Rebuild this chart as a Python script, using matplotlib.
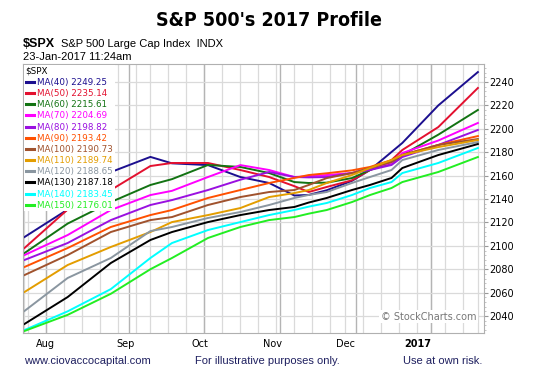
import numpy as np
import pandas as pd
import matplotlib
matplotlib.use("Agg")
import matplotlib.pyplot as plt
from matplotlib.ticker import MultipleLocator

# trading calendar behind the chart (exchange holidays removed)
holidays = ["2016-09-05", "2016-11-24", "2016-12-26", "2017-01-02", "2017-01-16"]
days = pd.bdate_range("2016-07-22", "2017-01-23")
days = days[~days.isin(pd.to_datetime(holidays))]

# values at these sessions
dates = ["2016-07-22", "2016-08-09", "2016-08-25", "2016-09-12", "2016-09-20",
         "2016-10-04", "2016-10-17", "2016-10-27", "2016-11-07", "2016-11-11",
         "2016-11-18", "2016-11-30", "2016-12-07", "2016-12-15", "2016-12-20",
         "2017-01-05", "2017-01-23"]

ma40 = [2107.5, 2131, 2163, 2176, 2170.5, 2169, 2158.8, 2153.7, 2143, 2143.5,
        2147.5, 2155.5, 2164.8, 2180.2, 2187.9, 2220, 2248.5]
ma50 = [2098.1, 2131, 2147.7, 2168.2, 2170.8, 2170.8, 2164.8, 2158.8, 2151, 2146,
        2150.3, 2156, 2164.8, 2173.3, 2181.9, 2201.5, 2234.9]
ma60 = [2093.8, 2119, 2137.4, 2152, 2157, 2169.1, 2167.4, 2162.2, 2154.5, 2153.7,
        2154, 2157.9, 2164.8, 2170.7, 2177.6, 2195, 2216.1]
ma70 = [2092.1, 2109.2, 2130.6, 2143.4, 2147, 2158.8, 2169, 2164.8, 2158.8, 2159.5,
        2160.5, 2162.2, 2166.5, 2170.8, 2179.3, 2190, 2205]
ma80 = [2087.9, 2102.4, 2122, 2134.9, 2139.1, 2147.7, 2156.5, 2163.1, 2158.8, 2158.5,
        2158.8, 2162.2, 2164.8, 2169.1, 2175.9, 2186.2, 2199]
ma90 = [2081.9, 2098.1, 2116.1, 2126.3, 2130.6, 2140.9, 2147.7, 2153.7, 2158, 2160.5,
        2162, 2164.5, 2167.4, 2173.3, 2177.6, 2186.2, 2193.8]
ma100 = [2075, 2092.1, 2111.8, 2122, 2124.6, 2134.9, 2141.7, 2146, 2147.7, 2152,
         2157.9, 2162.2, 2166.5, 2171.6, 2177.6, 2186.2, 2191.3]
ma110 = [2060.5, 2083.6, 2099, 2111.8, 2120.3, 2126.3, 2132.3, 2141.7, 2145.1, 2147.7,
         2153.7, 2160.5, 2166.5, 2173.3, 2177.6, 2184.4, 2190.4]
ma120 = [2044.3, 2072.5, 2089.6, 2112.6, 2116.1, 2123.8, 2128.9, 2134.9, 2140.9, 2143.5,
         2146, 2153.7, 2158.8, 2164.8, 2173.3, 2181.9, 2188.7]
ma130 = [2033.2, 2056.2, 2085.3, 2105, 2111.8, 2120.3, 2126.3, 2130.6, 2133.2, 2137,
         2140.9, 2147.7, 2152, 2158, 2166.5, 2177.6, 2187]
ma140 = [2028, 2044, 2063, 2089.6, 2102.4, 2113.5, 2120.3, 2126.3, 2130.6, 2133.5,
         2136.6, 2143.4, 2149.4, 2154.5, 2162.2, 2170.8, 2183.6]
ma150 = [2027.2, 2041, 2059, 2080, 2089.6, 2106.7, 2116.1, 2122, 2124.6, 2127.5,
         2130.6, 2137.4, 2143.4, 2149.4, 2154.5, 2163.1, 2175.9]

labels = ["MA(40) 2249.25", "MA(50) 2235.14", "MA(60) 2215.61", "MA(70) 2204.69",
          "MA(80) 2198.82", "MA(90) 2193.42", "MA(100) 2190.73", "MA(110) 2189.74",
          "MA(120) 2188.65", "MA(130) 2187.18", "MA(140) 2183.45", "MA(150) 2176.01"]
series = [ma40, ma50, ma60, ma70, ma80, ma90, ma100, ma110, ma120, ma130, ma140, ma150]
colors = ["#1c0f8f", "#e3102f", "#127312", "#ff00ff", "#9a10e0", "#ff5000",
          "#a0522d", "#e39d00", "#8a96a0", "#000000", "#00ffff", "#22ee22"]

month_names = ["Aug", "Sep", "Oct", "Nov", "Dec", "2017"]

x = days.get_indexer(pd.to_datetime(dates))

fig = plt.figure(figsize=(5.37, 3.81), dpi=100)
ax = fig.add_axes([23 / 537, 1 - 333 / 381, 461 / 537, 269 / 381])

for vals, col, lab in zip(series, colors, labels):
    ax.plot(x, vals, color=col, lw=1.4, label=lab, solid_joinstyle="round")

ax.set_xlim(-0.4, 127.7)
ax.set_ylim(2025.5, 2255.4)

# grid: weekly light lines, monthly darker lines
s = pd.Series(np.arange(len(days)), index=days)
week_starts = s.groupby(days.to_period("W")).first().values
month_starts = s.groupby(days.to_period("M")).first().values[1:]
for w in week_starts:
    ax.axvline(w, color="#dadada", lw=0.9, zorder=0)
for m in month_starts:
    ax.axvline(m, color="#b4b4b4", lw=1.0, zorder=0)
ax.yaxis.grid(True, color="#dadada", lw=0.9)
ax.set_axisbelow(True)

# month labels
label_pos = [m - o for m, o in zip(month_starts, [0.3, 0.8, 1.2, 2.0, 2.7, 3.6])]
ax.set_xticks(label_pos)
ax.set_xticklabels(month_names, fontsize=7, family="DejaVu Sans")
ax.get_xticklabels()[-1].set_fontweight("bold")
ax.tick_params(axis="x", length=0, pad=4)

ax.yaxis.tick_right()
ax.set_yticks(np.arange(2040, 2241, 20))
ax.yaxis.set_minor_locator(MultipleLocator(4))
ax.tick_params(axis="y", which="major", labelsize=7, length=3, color="#999999", pad=1)
ax.tick_params(axis="y", which="minor", length=1.5, color="#bbbbbb")
for sp in ax.spines.values():
    sp.set_color("#b0b0b0")

leg = ax.legend(loc="upper left", fontsize=6.3, title="$SPX", title_fontsize=6.3,
                alignment="left", labelcolor="linecolor", handlelength=1.0,
                handletextpad=0.35, labelspacing=0.25, borderpad=0.15,
                borderaxespad=0.15, frameon=True, facecolor="white",
                edgecolor="none", framealpha=1, fancybox=False)
for h in leg.get_lines():
    h.set_linewidth(2.2)

ax.text(0.983, 0.06, "\u00a9 StockCharts.com", transform=ax.transAxes, ha="right",
        va="center", fontsize=7, color="#777777",
        bbox=dict(facecolor="white", edgecolor="none", pad=1))

# header text
fig.text(0.5, 1 - 20 / 381, "S&P 500's 2017 Profile", ha="center", va="center",
         fontsize=14, fontweight="heavy", fontstretch="condensed", family="DejaVu Sans")
fig.text(23 / 537, 1 - 44 / 381, "$SPX", ha="left", va="center", fontsize=9,
         fontweight="bold", family="Liberation Sans")
fig.text(61 / 537, 1 - 44 / 381, "S&P 500 Large Cap Index  INDX", ha="left",
         va="center", fontsize=8, family="Liberation Sans")
fig.text(23 / 537, 1 - 57 / 381, "23-Jan-2017 11:24am", ha="left", va="center",
         fontsize=8, family="Liberation Sans")

# footer
foot = "#1f2060"
fig.text(24 / 537, 1 - 361 / 381, "www.ciovaccocapital.com", ha="left", va="center",
         fontsize=8, color=foot, family="Liberation Sans")
fig.text(195 / 537, 1 - 361 / 381, "For illustrative purposes only.", ha="left",
         va="center", fontsize=8, color=foot, family="Liberation Sans")
fig.text(403 / 537, 1 - 361 / 381, "Use at own risk.", ha="left", va="center",
         fontsize=8, color=foot, family="Liberation Sans")

fig.savefig("out.png", dpi=100)
